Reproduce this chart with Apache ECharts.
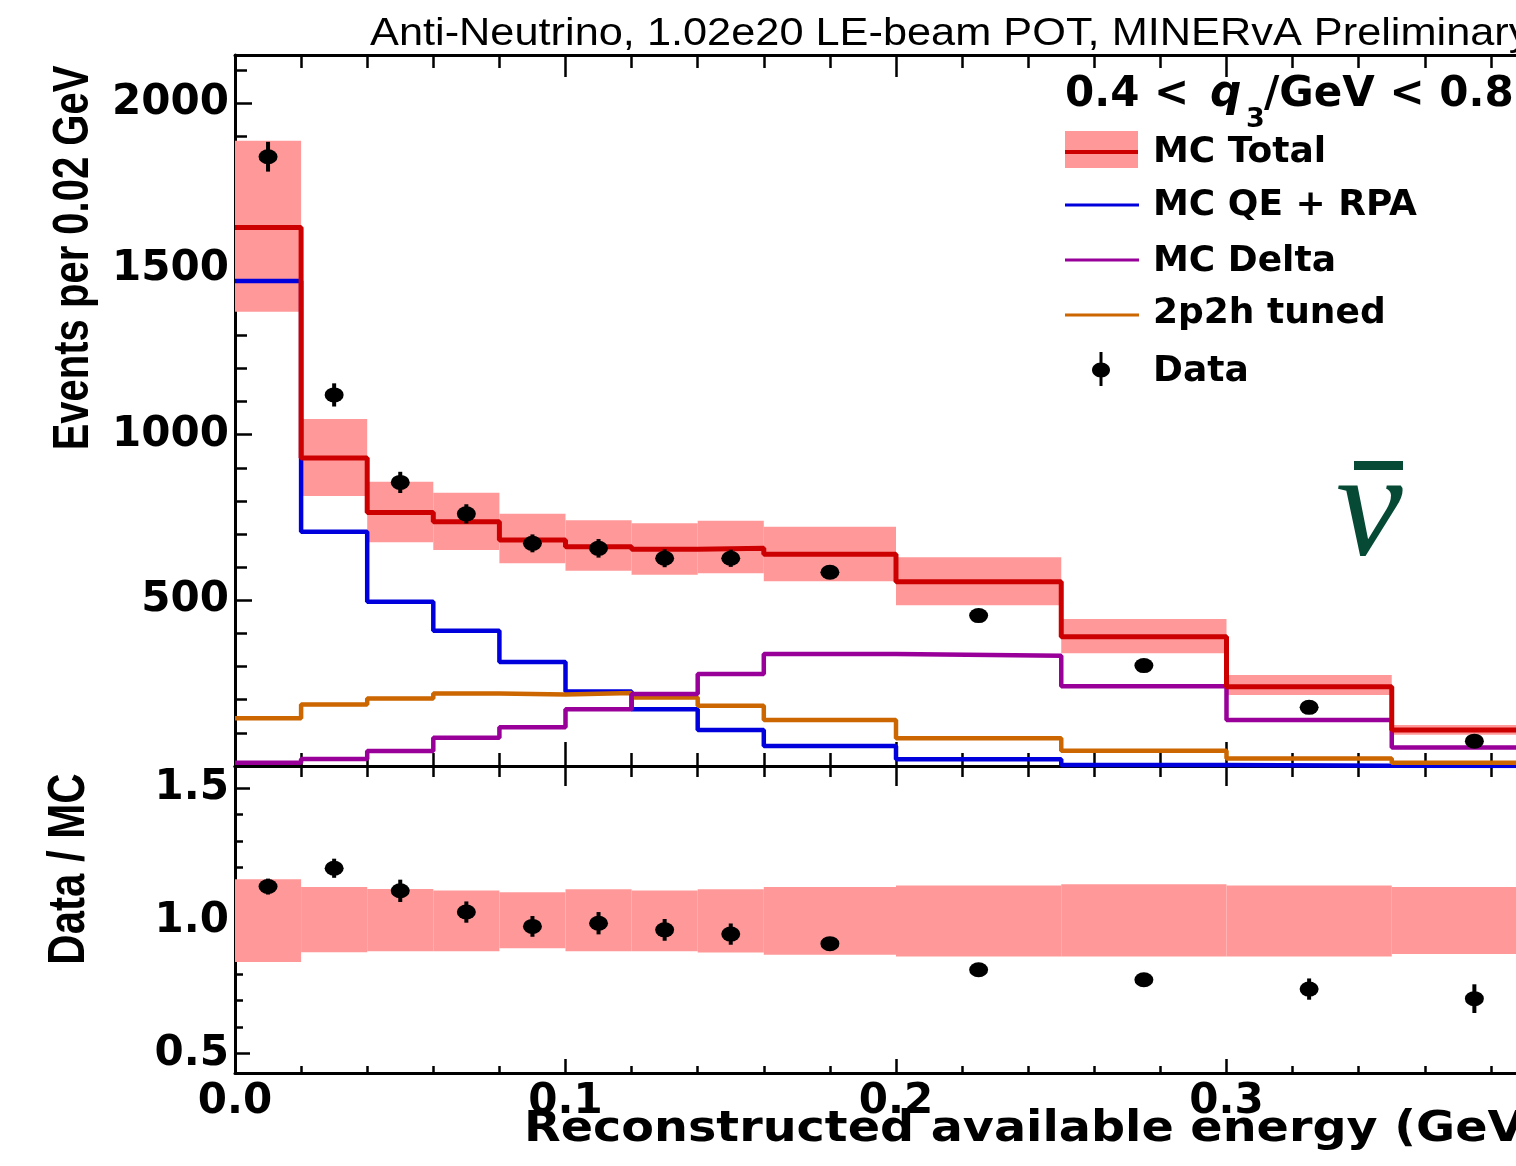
<!DOCTYPE html>
<html>
<head>
<meta charset="utf-8">
<script src="https://cdn.jsdelivr.net/npm/echarts@6/dist/echarts.min.js"></script>
<style>
html,body{margin:0;padding:0;background:#fff;}
#chart{width:1516px;height:1166px;}
</style>
</head>
<body>
<div id="chart"></div>
<script>
// ---- Data ----
const binEdges   = [0, 0.02, 0.04, 0.06, 0.08, 0.10, 0.12, 0.14, 0.16, 0.20, 0.25, 0.30, 0.35, 0.40];
const binCenters = [0.01, 0.03, 0.05, 0.07, 0.09, 0.11, 0.13, 0.15, 0.18, 0.225, 0.275, 0.325, 0.375];
const mcTotal    = [1625, 930, 765, 737, 682, 662, 654, 657, 639, 556, 390, 239, 109];
const mcBandLo   = [1371, 815, 675, 652, 612, 589, 577, 582, 558, 485, 340, 214, 94];
const mcBandHi   = [1887, 1047, 858, 825, 761, 742, 733, 740, 722, 630, 444, 275, 124];
const mcQeRpa    = [1464, 707, 496, 408, 314, 225, 171, 109, 60, 20, 3, 1, 0];
const mcDelta    = [10, 21, 45, 85, 117, 171, 217, 278, 338, 333, 241, 139, 56];
const twoP2h     = [144, 186, 204, 219, 216, 220, 207, 182, 139, 84, 46, 23, 10];
const dataVals   = [1839, 1120, 856, 761, 672, 657, 627, 627, 585, 454, 303, 177, 75];
const dataErr    = [45, 35, 32, 29, 27, 28, 27, 26, 16, 11, 10, 10, 6];
const ratioVals  = [1.129, 1.198, 1.113, 1.033, 0.979, 0.991, 0.966, 0.950, 0.914, 0.816, 0.778, 0.743, 0.707];
const ratioErr   = [0.030, 0.036, 0.042, 0.040, 0.039, 0.042, 0.041, 0.040, 0.025, 0.020, 0.025, 0.040, 0.054];
const ratioBandLo= [0.845, 0.882, 0.885, 0.885, 0.897, 0.885, 0.885, 0.881, 0.872, 0.866, 0.866, 0.866, 0.875];
const ratioBandHi= [1.157, 1.127, 1.120, 1.114, 1.108, 1.119, 1.114, 1.119, 1.127, 1.133, 1.138, 1.133, 1.127];
const upperTicks = [500, 1000, 1500, 2000];
const lowerTicks = [0.5, 1.0, 1.5];
const xTicks     = [0.0, 0.1, 0.2, 0.3, 0.4];

// ---- helpers ----
function stepData(vals) {
  return binEdges.map((e, i) => [e, vals[Math.min(i, vals.length - 1)]]);
}
function bandData(lo, hi) {
  return lo.map((l, i) => [binEdges[i], binEdges[i + 1], l, hi[i]]);
}
function errData(vals, err) {
  return vals.map((v, i) => [binCenters[i], v - err[i], v + err[i]]);
}
function bandRender(params, api) {
  const p0 = api.coord([api.value(0), api.value(3)]);
  const p1 = api.coord([api.value(1), api.value(2)]);
  const r = echarts.graphic.clipRectByRect(
    {x: p0[0], y: p0[1], width: p1[0] - p0[0], height: p1[1] - p0[1]},
    {x: params.coordSys.x, y: params.coordSys.y, width: params.coordSys.width, height: params.coordSys.height});
  return r && {type: 'rect', shape: r, style: {fill: '#ff9999'}};
}
function errRender(params, api) {
  const a = api.coord([api.value(0), api.value(2)]);
  const b = api.coord([api.value(0), api.value(1)]);
  return {type: 'line', shape: {x1: a[0], y1: a[1], x2: b[0], y2: b[1]}, style: {stroke: '#000', lineWidth: 4}};
}
const near = (v, arr) => arr.some(t => Math.abs(t - v) < 1e-6);

const BOLD = {fontFamily: 'DejaVu Sans', fontWeight: 'bold', color: '#000'};
const tickStyle = {color: '#000', width: 2.5};

function xAxis(grid, pos, major, minor, labels) {
  return {
    type: 'value', gridIndex: grid, position: pos, min: 0, max: 0.4, interval: 0.1,
    axisLine: {show: true, onZero: false, lineStyle: {color: '#000', width: 3}},
    axisTick: {show: true, inside: true, length: major, lineStyle: tickStyle},
    minorTick: {show: true, splitNumber: 5, length: minor, lineStyle: tickStyle},
    splitLine: {show: false},
    axisLabel: labels ? Object.assign({show: true, margin: 8, fontSize: 42,
      showMaxLabel: false,
      formatter: v => near(v, xTicks) ? v.toFixed(1) : ''}, BOLD) : {show: false}
  };
}

const option = {
  animation: false,
  backgroundColor: '#fff',
  grid: [
    {left: 235, top: 55, width: 1322, height: 711, containLabel: false, outerBoundsMode: 'none'},
    {left: 235, top: 766, width: 1322, height: 307, containLabel: false, outerBoundsMode: 'none'}
  ],
  xAxis: [
    xAxis(0, 'bottom', 24, 13, false),
    xAxis(0, 'top', 22, 13, false),
    xAxis(1, 'top', 20, 11, false),
    xAxis(1, 'bottom', 14, 7, true)
  ],
  yAxis: [
    {
      type: 'value', gridIndex: 0, position: 'left', min: 0, max: 2146, interval: 500,
      axisLine: {show: true, lineStyle: {color: '#000', width: 3}},
      axisTick: {show: true, inside: true, length: 17, lineStyle: tickStyle},
      minorTick: {show: true, splitNumber: 5, length: 12, lineStyle: tickStyle},
      splitLine: {show: false},
      axisLabel: Object.assign({margin: 6, fontSize: 42, showMinLabel: false, showMaxLabel: false,
        formatter: v => near(v, upperTicks) ? String(v) : ''}, BOLD)
    },
    {
      type: 'value', gridIndex: 1, position: 'left', min: 0.427, max: 1.583,
      splitNumber: 2, minInterval: 0.5, maxInterval: 0.5,
      axisLine: {show: true, lineStyle: {color: '#000', width: 3}},
      axisTick: {show: true, inside: true, length: 15, lineStyle: tickStyle},
      minorTick: {show: true, splitNumber: 5, length: 8, lineStyle: tickStyle},
      splitLine: {show: false},
      axisLabel: Object.assign({margin: 6, fontSize: 42, showMinLabel: false, showMaxLabel: false,
        formatter: v => near(v, lowerTicks) ? v.toFixed(1) : ''}, BOLD)
    }
  ],
  series: [
    {name: 'MC Total band', type: 'custom', xAxisIndex: 0, yAxisIndex: 0, z: 1,
      renderItem: bandRender, encode: {x: [0, 1], y: [2, 3]}, data: bandData(mcBandLo, mcBandHi), silent: true},
    {name: 'MC QE + RPA', type: 'line', step: 'end', xAxisIndex: 0, yAxisIndex: 0, z: 2,
      symbol: 'none', lineStyle: {color: '#0000dd', width: 4.5}, data: stepData(mcQeRpa)},
    {name: '2p2h tuned', type: 'line', step: 'end', xAxisIndex: 0, yAxisIndex: 0, z: 3,
      symbol: 'none', lineStyle: {color: '#cc6600', width: 4.5}, data: stepData(twoP2h)},
    {name: 'MC Delta', type: 'line', step: 'end', xAxisIndex: 0, yAxisIndex: 0, z: 4,
      symbol: 'none', lineStyle: {color: '#990099', width: 4.5}, data: stepData(mcDelta)},
    {name: 'MC Total', type: 'line', step: 'end', xAxisIndex: 0, yAxisIndex: 0, z: 5,
      symbol: 'none', lineStyle: {color: '#cc0000', width: 5}, data: stepData(mcTotal)},
    {name: 'Data err', type: 'custom', xAxisIndex: 0, yAxisIndex: 0, z: 6,
      renderItem: errRender, encode: {x: 0, y: [1, 2]}, data: errData(dataVals, dataErr)},
    {name: 'Data', type: 'scatter', xAxisIndex: 0, yAxisIndex: 0, z: 7,
      symbol: 'circle', symbolSize: [19, 15], itemStyle: {color: '#000', opacity: 1},
      data: dataVals.map((v, i) => [binCenters[i], v])},
    {name: 'Ratio band', type: 'custom', xAxisIndex: 3, yAxisIndex: 1, z: 1,
      renderItem: bandRender, encode: {x: [0, 1], y: [2, 3]}, data: bandData(ratioBandLo, ratioBandHi), silent: true},
    {name: 'Ratio err', type: 'custom', xAxisIndex: 3, yAxisIndex: 1, z: 6,
      renderItem: errRender, encode: {x: 0, y: [1, 2]}, data: errData(ratioVals, ratioErr)},
    {name: 'Data / MC', type: 'scatter', xAxisIndex: 3, yAxisIndex: 1, z: 7,
      symbol: 'circle', symbolSize: [19, 15], itemStyle: {color: '#000', opacity: 1},
      data: ratioVals.map((v, i) => [binCenters[i], v])}
  ],
  graphic: [
    // title
    {type: 'text', x: 370, y: 35, scaleX: 1.14, style: {text: 'Anti-Neutrino, 1.02e20 LE-beam POT, MINERvA Preliminary',
      font: '38px "Liberation Sans"', fill: '#000', align: 'left', verticalAlign: 'middle'}},
    // axis titles
    {type: 'text', x: 74, y: 258, rotation: Math.PI / 2, scaleY: 1.25, style: {text: 'Events per 0.02 GeV',
      font: 'bold 40px "Liberation Sans"', fill: '#000', align: 'center', verticalAlign: 'middle'}},
    {type: 'text', x: 70, y: 869, rotation: Math.PI / 2, scaleY: 1.25, style: {text: 'Data / MC',
      font: 'bold 42px "Liberation Sans"', fill: '#000', align: 'center', verticalAlign: 'middle'}},
    {type: 'text', x: 524, y: 1130, scaleX: 1.135, style: {text: 'Reconstructed available energy (GeV)',
      font: 'bold 42px "DejaVu Sans"', fill: '#000', align: 'left', verticalAlign: 'middle'}},
    // q3 header
    {type: 'text', x: 1065, y: 95, style: {text: '0.4 <', font: 'bold 42px "DejaVu Sans"', fill: '#000', verticalAlign: 'middle'}},
    {type: 'text', x: 1210, y: 95, style: {text: 'q', font: 'italic bold 44px "DejaVu Sans"', fill: '#000', verticalAlign: 'middle'}},
    {type: 'text', x: 1246, y: 120, style: {text: '3', font: 'bold 27px "DejaVu Sans"', fill: '#000', verticalAlign: 'middle'}},
    {type: 'text', x: 1264, y: 95, style: {text: '/GeV < 0.8', font: 'bold 42px "DejaVu Sans"', fill: '#000', verticalAlign: 'middle'}},
    // legend
    {type: 'rect', shape: {x: 1065, y: 131, width: 73, height: 37}, style: {fill: '#ff9999'}},
    {type: 'line', shape: {x1: 1065, y1: 152, x2: 1138, y2: 152}, style: {stroke: '#cc0000', lineWidth: 4}},
    {type: 'line', shape: {x1: 1065, y1: 205, x2: 1139, y2: 205}, style: {stroke: '#0000dd', lineWidth: 3}},
    {type: 'line', shape: {x1: 1065, y1: 260, x2: 1139, y2: 260}, style: {stroke: '#990099', lineWidth: 3}},
    {type: 'line', shape: {x1: 1065, y1: 315, x2: 1139, y2: 315}, style: {stroke: '#cc6600', lineWidth: 3}},
    {type: 'line', shape: {x1: 1101, y1: 352, x2: 1101, y2: 386}, style: {stroke: '#000', lineWidth: 3}},
    {type: 'ellipse', shape: {cx: 1101, cy: 370, rx: 9, ry: 7.5}, style: {fill: '#000'}},
    {type: 'text', x: 1153, y: 153, style: {text: 'MC Total', font: 'bold 36px "DejaVu Sans"', fill: '#000', verticalAlign: 'middle'}},
    {type: 'text', x: 1153, y: 206, style: {text: 'MC QE + RPA', font: 'bold 36px "DejaVu Sans"', fill: '#000', verticalAlign: 'middle'}},
    {type: 'text', x: 1153, y: 262, style: {text: 'MC Delta', font: 'bold 36px "DejaVu Sans"', fill: '#000', verticalAlign: 'middle'}},
    {type: 'text', x: 1153, y: 314, style: {text: '2p2h tuned', font: 'bold 36px "DejaVu Sans"', fill: '#000', verticalAlign: 'middle'}},
    {type: 'text', x: 1153, y: 372, style: {text: 'Data', font: 'bold 36px "DejaVu Sans"', fill: '#000', verticalAlign: 'middle'}},
    // anti-neutrino symbol
    {type: 'rect', shape: {x: 1354, y: 461, width: 49, height: 9}, style: {fill: '#064a35'}},
    {type: 'text', x: 1336, y: 516, style: {text: 'ν', font: 'italic 150px "Liberation Serif"', fill: '#064a35', verticalAlign: 'middle'}}
  ]
};

const chart = echarts.init(document.getElementById('chart'), null, {renderer: 'canvas'});
chart.setOption(option);
</script>
</body>
</html>
